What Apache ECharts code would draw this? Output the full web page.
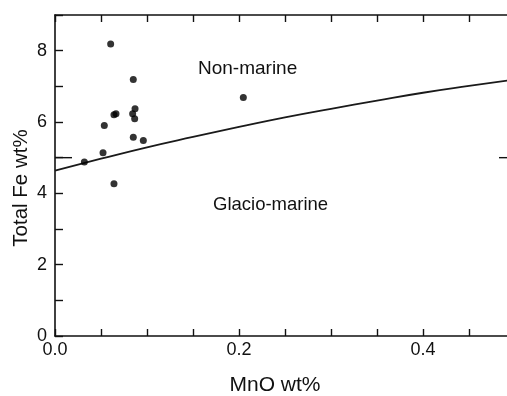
<!DOCTYPE html>
<html>
<head>
<meta charset="utf-8">
<script src="https://cdn.jsdelivr.net/npm/echarts@6/dist/echarts.min.js"></script>
<style>html,body{margin:0;padding:0;background:#fff}#c{width:507px;height:396px}</style>
</head>
<body>
<div id="c"></div>
<script>
// Sample points: MnO wt% vs Total Fe wt%
const mnO = [0.0605, 0.0851, 0.2047, 0.0870, 0.0844, 0.0866, 0.0641, 0.0663, 0.0536, 0.0851, 0.0960, 0.0522, 0.0319, 0.0641];
const totalFe = [8.19, 7.19, 6.69, 6.37, 6.23, 6.09, 6.20, 6.23, 5.90, 5.57, 5.48, 5.14, 4.88, 4.27];
// Discriminant boundary curve
const curveX = [0, 0.05, 0.1, 0.15, 0.2, 0.25, 0.3, 0.35, 0.4, 0.45, 0.5];
const curveY = [4.64, 4.97, 5.29, 5.58, 5.86, 6.13, 6.37, 6.60, 6.82, 7.01, 7.19];
// Axis ticks / labels
const xLabelStep = 0.2;
const yLabelStep = 2;
const refTicks = [5];
const regionLabels = ['Non-marine', 'Glacio-marine'];

const points = mnO.map((x, i) => [x, totalFe[i]]);
const curve = curveX.map((x, i) => [x, curveY[i]]);
const ink = '#111';
const font = 'Liberation Sans, Arial, sans-serif';
const isStep = (v, s) => Math.abs(v / s - Math.round(v / s)) < 1e-6;

const chart = echarts.init(document.getElementById('c'), null, {renderer: 'canvas'});
const xBase = {
  type: 'value', min: 0, max: 0.5, interval: 0.05,
  axisLine: {show: true, onZero: false, lineStyle: {color: ink, width: 1.6}},
  axisTick: {show: true, inside: true, length: 7, lineStyle: {color: ink, width: 1.4}},
  splitLine: {show: false}
};
const yBase = {
  type: 'value', min: 0, max: 9, interval: 1,
  axisLine: {show: true, onZero: false, lineStyle: {color: ink, width: 1.6}},
  axisTick: {show: true, inside: true, length: 8, lineStyle: {color: ink, width: 1.4}},
  splitLine: {show: false}
};
chart.setOption({
  animation: false,
  backgroundColor: '#fff',
  grid: {left: 55, top: 15, right: -8, bottom: 60, containLabel: false, outerBoundsMode: 'none'},
  xAxis: [
    Object.assign({}, xBase, {
      position: 'bottom',
      name: 'MnO wt%', nameLocation: 'middle', nameGap: 39, nameMoveOverlap: false,
      nameTextStyle: {fontFamily: font, fontSize: 21, color: ink, padding: [0, 20, 0, 0]},
      axisLabel: {show: true, margin: 5, fontFamily: font, fontSize: 18, color: ink,
        showMaxLabel: false,
        formatter: v => isStep(v, xLabelStep) ? v.toFixed(1) : ''}
    }),
    Object.assign({}, xBase, {position: 'top', axisLabel: {show: false}})
  ],
  yAxis: [
    Object.assign({}, yBase, {
      position: 'left',
      name: 'Total Fe wt%', nameLocation: 'middle', nameGap: 23, nameMoveOverlap: false,
      nameTextStyle: {fontFamily: font, fontSize: 20.5, color: ink, padding: [0, 25, 0, 0]},
      axisLabel: {show: true, margin: 8, fontFamily: font, fontSize: 18, color: ink,
        formatter: v => isStep(v, yLabelStep) ? String(v) : ''}
    }),
    Object.assign({}, yBase, {position: 'right', axisLabel: {show: false}})
  ],
  series: [
    {
      type: 'line', data: curve, smooth: true, showSymbol: false, symbol: 'none',
      lineStyle: {color: '#1a1a1a', width: 1.8}, z: 2
    },
    {
      type: 'scatter', data: points, symbol: 'circle', symbolSize: 7,
      itemStyle: {color: '#000'}, z: 3
    },
    {
      // long reference ticks on both frame sides
      type: 'custom', data: refTicks.map(v => [v]), z: 4, silent: true,
      renderItem: (params, api) => {
        const y = api.coord([0, api.value(0)])[1];
        const cs = params.coordSys;
        return {type: 'group', children: [
          {type: 'line', shape: {x1: cs.x, y1: y, x2: cs.x + 17, y2: y}, style: {stroke: ink, lineWidth: 1.4}},
          {type: 'line', shape: {x1: cs.x + cs.width, y1: y, x2: cs.x + cs.width - 16, y2: y}, style: {stroke: ink, lineWidth: 1.4}}
        ]};
      },
      encode: {y: 0}
    }
  ],
  graphic: [
    {type: 'text', left: 198, top: 59, style: {text: regionLabels[0], font: '19px ' + font, fill: ink}},
    {type: 'text', left: 213, top: 195, style: {text: regionLabels[1], font: '18.5px ' + font, fill: ink}}
  ]
});
</script>
</body>
</html>
